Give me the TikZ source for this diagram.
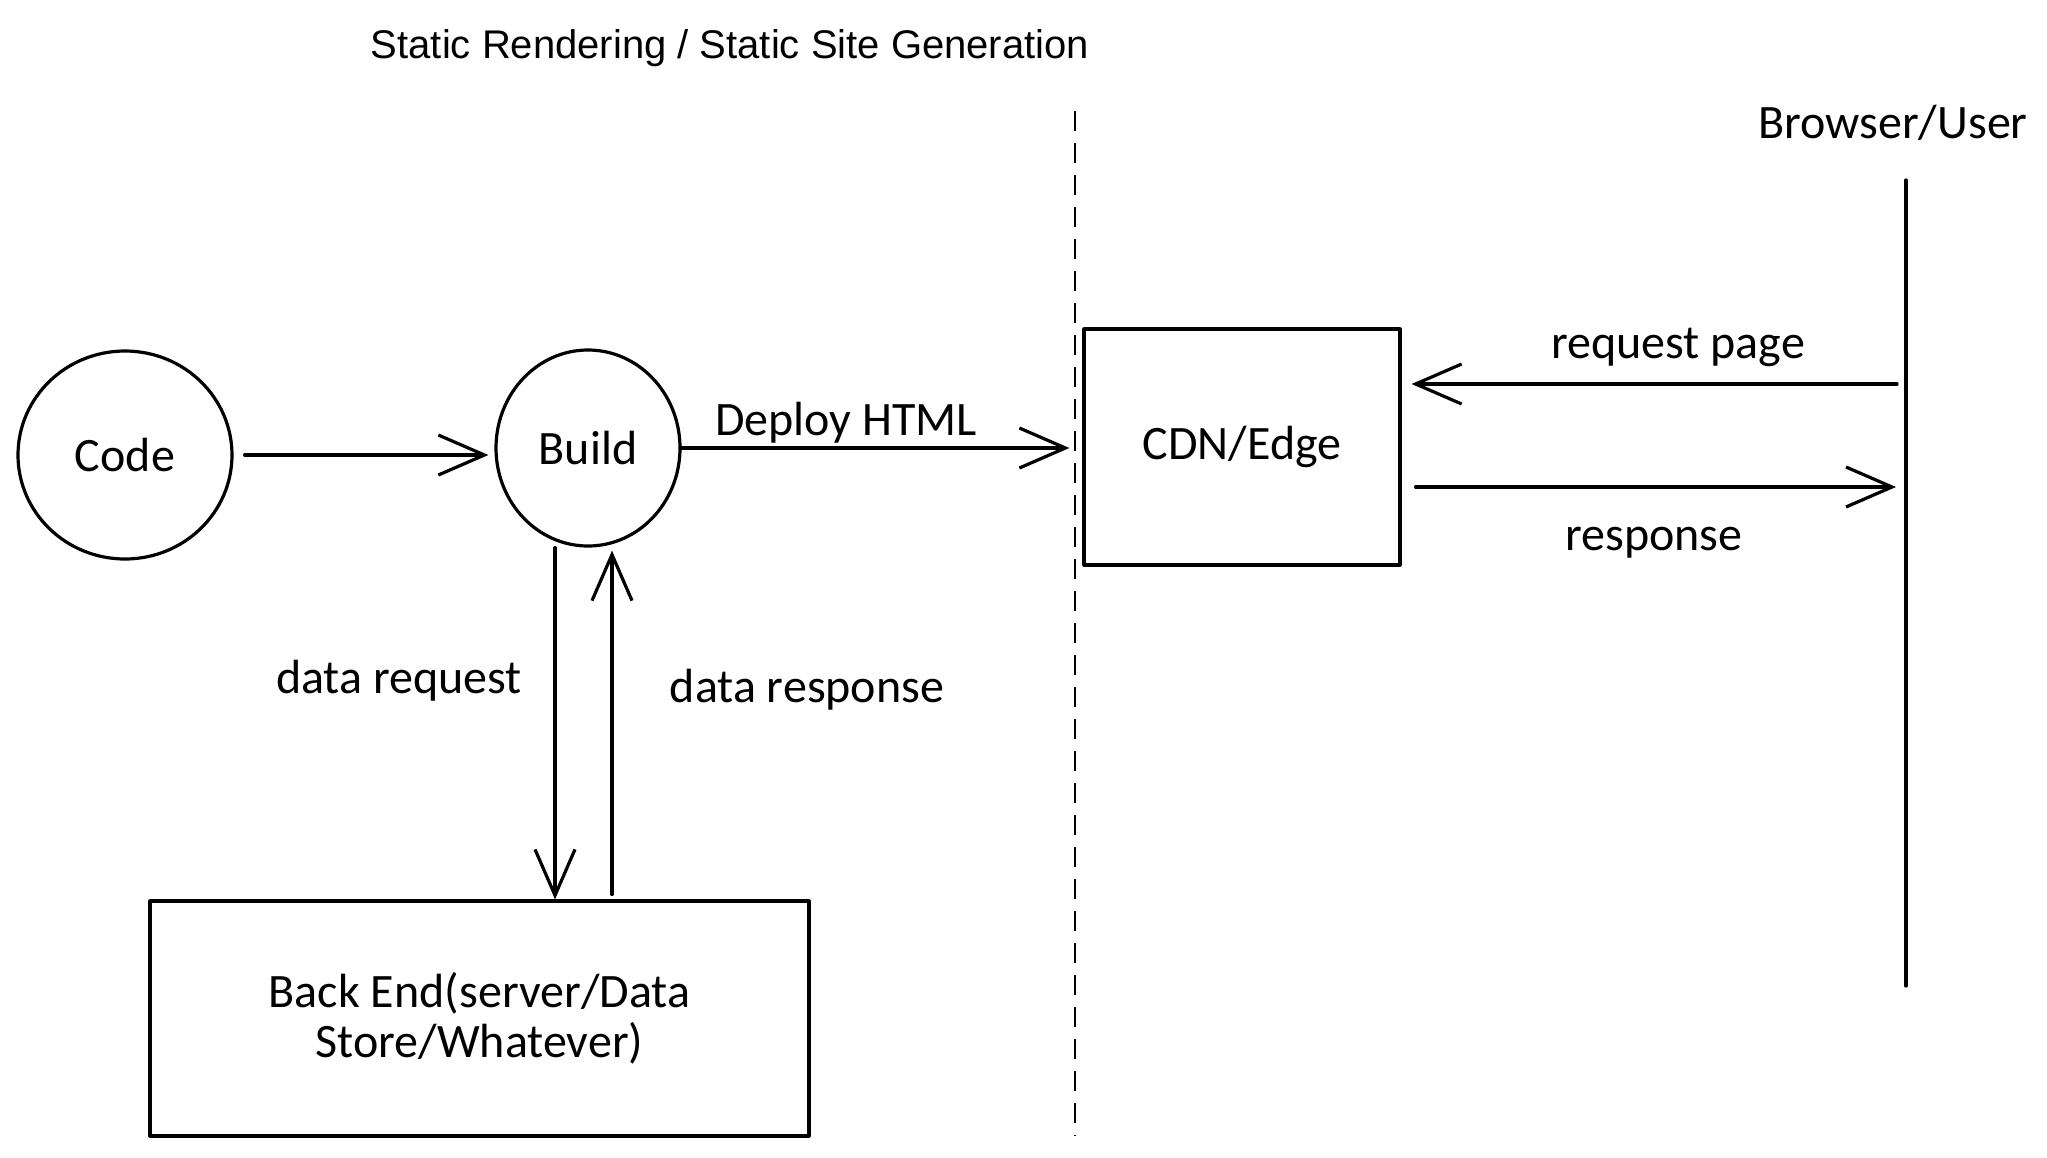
\documentclass[tikz,border=0pt]{standalone}
\usepackage{fontspec}
\setmainfont{Liberation Sans}
\newfontfamily\handfont{Carlito}
\usetikzlibrary{arrows.meta,shapes.geometric}
\tikzset{
  ink/.style={line width=3.2pt, black, line cap=round, line join=round},
  arr/.style={ink, -{Straight Barb[length=46pt,width=40pt,line width=3.2pt]}},
  hand/.style={font=\handfont\fontsize{48}{50}\selectfont, inner sep=0pt},
  circ/.style={ink, draw, ellipse, inner sep=0pt, hand},
  boxnode/.style={ink, draw, rectangle, inner sep=0pt, hand, align=center},
  title/.style={font=\fontsize{40}{44}\selectfont, inner sep=0pt},
  divider/.style={line width=2.4pt, dash pattern=on 20pt off 12pt}
}
\begin{document}
\begin{tikzpicture}[x=1pt,y=-1pt]
\fill[white] (0,0) rectangle (2047,1157);
\useasboundingbox (0,0) rectangle (2047,1157);

% title
\node[title, anchor=base] (title) at (730,58) {Static Rendering / Static Site Generation};

% divider and browser lifeline
\coordinate (dtop) at (1075,111);
\coordinate (dbot) at (1075,1136);
\draw[divider] (dtop) -- (dbot);
\node[hand] (browser) at (1893,123) {Browser/User};
\coordinate (btop) at (1906,180);
\coordinate (bbot) at (1906,986);
\draw[ink] (btop) -- (bbot);

% nodes
\node[circ, minimum width=214pt, minimum height=208pt] (code) at (125,455) {Code};
\node[circ, minimum width=184pt, minimum height=196pt] (build) at (588,448) {Build};
\node[boxnode, minimum width=316pt, minimum height=236pt] (cdn) at (1242,447) {CDN/Edge};
\node[boxnode, minimum width=659pt, minimum height=235pt] (backend) at (479.5,1018.5)
  {Back End(server/Data\\Store/Whatever)};

% code -> build
\draw[arr, shorten <=11pt, shorten >=6pt] (code.east) -- (code.east -| build.west);

% build -> cdn
\draw[arr, shorten >=13pt] (build.east) -- (build.east -| cdn.west);
\node[hand] (deploy) at (846,423) {Deploy HTML};

% browser <-> cdn
\coordinate (rq) at (1897,384);
\draw[arr, shorten >=10pt] (rq) -- (rq -| cdn.east);
\node[hand] (rqlabel) at (1678,347) {request page};
\coordinate (rs) at (1896,487);
\draw[arr, shorten <=14pt] (rs -| cdn.east) -- (rs);
\node[hand] (rslabel) at (1654,543) {response};

% build <-> backend
\coordinate (dq) at ([xshift=-33pt]build.south);
\draw[arr] (dq) -- (dq |- backend.north);
\node[hand] (dqlabel) at (399,681) {data request};
\coordinate (dr) at ([xshift=24pt]build.south);
\draw[arr, shorten <=5pt, shorten >=3pt] (dr |- backend.north) -- (dr);
\node[hand] (drlabel) at (807,690) {data response};
\end{tikzpicture}
\end{document}
